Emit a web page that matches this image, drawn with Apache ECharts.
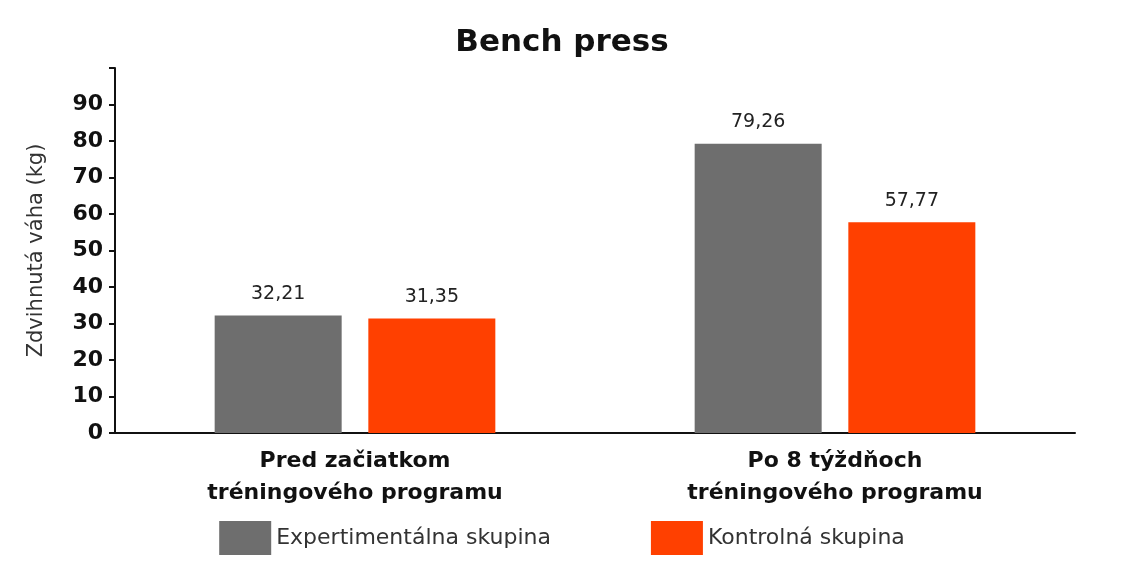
<!DOCTYPE html>
<html><head><meta charset="utf-8">
<script src="https://cdn.jsdelivr.net/npm/echarts@6/dist/echarts.min.js"></script>
<style>html,body{margin:0;background:#fff}#c{width:1124px;height:588px}</style>
</head><body><div id="c"></div>
<script>
const categories = ["Pred začiatkom\ntréningového programu", "Po 8 týždňoch\ntréningového programu"]
const expValues = [32.21, 79.26]
const ctrlValues = [31.35, 57.77]
const seriesNames = ["Expertimentálna skupina", "Kontrolná skupina"]
const font = "DejaVu Sans"

let chart = echarts.init(document.getElementById("c"))
const label = {show: true, position: "top", distance: 12, color: "#222", fontSize: 19, fontFamily: font,
    formatter: p => String(p.value).replace(".", ",")}
chart.setOption({
    textStyle: {fontFamily: font},
    title: {text: "Bench press", left: "center", top: 22, textStyle: {fontSize: 31, fontWeight: "bold", color: "#111", fontFamily: font}},
    grid: {left: 115, right: 49, top: 68, bottom: 155},
    legend: {bottom: 28, itemWidth: 52, itemHeight: 34, itemGap: 100, icon: "rect",
        textStyle: {fontSize: 22, color: "#333", fontFamily: font}},
    xAxis: {type: "category", data: categories,
        axisLine: {lineStyle: {color: "#111", width: 2}}, axisTick: {show: false},
        axisLabel: {fontSize: 22, fontWeight: "bold", color: "#111", lineHeight: 32, margin: 12}},
    yAxis: {type: "value", min: 0, max: 100, interval: 10,
        name: "Zdvihnutá váha (kg)", nameLocation: "middle", nameGap: 68,
        nameTextStyle: {fontSize: 21, color: "#333"},
        splitLine: {show: false},
        axisLine: {show: true, lineStyle: {color: "#111", width: 2}},
        axisTick: {show: true, length: 6, lineStyle: {color: "#111", width: 2}},
        axisLabel: {fontSize: 22, fontWeight: "bold", color: "#111", margin: 12,
            formatter: v => v === 100 ? "" : v}},
    series: [
        {name: seriesNames[0], type: "bar", data: expValues, barWidth: 127, barGap: "21%",
            itemStyle: {color: "#6e6e6e"}, label},
        {name: seriesNames[1], type: "bar", data: ctrlValues, barWidth: 127,
            itemStyle: {color: "#ff4000"}, label}
    ]
})
</script></body></html>
